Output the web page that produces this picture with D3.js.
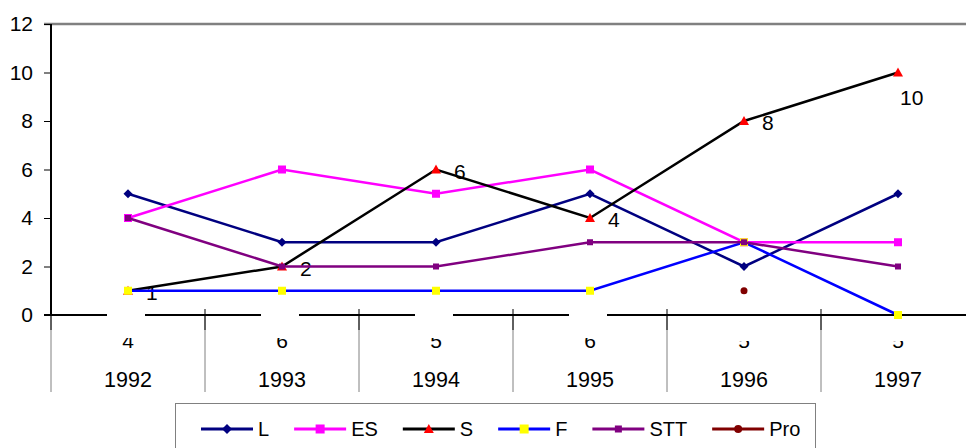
<!DOCTYPE html>
<html>
<head>
<meta charset="utf-8">
<script src="https://cdnjs.cloudflare.com/ajax/libs/d3/7.8.5/d3.min.js"></script>
<style>
  body { margin: 0; background: #fff; }
  svg { display: block; font-family: "Liberation Sans", Arial, sans-serif; }
</style>
</head>
<body>
<svg id="chart" width="966" height="448"></svg>
<script>
var years = ["1992", "1993", "1994", "1995", "1996", "1997"];
var innerLabels = ["4", "6", "5", "6", "5", "5"];
var yTicks = [0, 2, 4, 6, 8, 10, 12];

var seriesL   = [5, 3, 3, 5, 2, 5];
var seriesES  = [4, 6, 5, 6, 3, 3];
var seriesS   = [1, 2, 6, 4, 8, 10];
var seriesF   = [1, 1, 1, 1, 3, 0];
var seriesSTT = [4, 2, 2, 3, 3, 2];
var seriesPro = [null, null, null, null, 1, null];

var series = [
  {name: "L",   values: seriesL,   line: "#000080", fill: "#000080", mark: "diamond", size: 9},
  {name: "ES",  values: seriesES,  line: "#ff00ff", fill: "#ff00ff", mark: "square", size: 8},
  {name: "S",   values: seriesS,   line: "#000000", fill: "#ff0000", mark: "triangle", size: 10, labels: true},
  {name: "F",   values: seriesF,   line: "#0000ff", fill: "#ffff00", mark: "square", size: 8},
  {name: "STT", values: seriesSTT, line: "#800080", fill: "#800080", mark: "square", size: 6},
  {name: "Pro", values: seriesPro, line: "#800000", fill: "#800000", mark: "circle", size: 8, noLine: true}
];

var svg = d3.select("#chart");

var x = d3.scaleBand().domain(years).range([51, 51 + 6 * 154]);
var y = d3.scaleLinear().domain([0, 12]).range([315, 24]);

function cx(i) { return x(years[i]) + x.bandwidth() / 2; }

// category tiers
var cats = svg.append("g");
cats.selectAll("text.inner")
  .data(innerLabels)
  .enter().append("text")
  .attr("x", function (d, i) { return cx(i); })
  .attr("y", 348)
  .attr("text-anchor", "middle")
  .attr("font-size", 21)
  .text(function (d) { return d; });

// white boxes hiding the top of the inner labels
cats.selectAll("rect.hide")
  .data(innerLabels)
  .enter().append("rect")
  .attr("x", function (d, i) { return cx(i) - 21; })
  .attr("y", 311)
  .attr("width", 38)
  .attr("height", function (d, i) { return i < 4 ? 27 : 30; })
  .attr("fill", "#fff");

cats.selectAll("text.year")
  .data(years)
  .enter().append("text")
  .attr("x", function (d, i) { return cx(i); })
  .attr("y", 387)
  .attr("text-anchor", "middle")
  .attr("font-size", 21.5)
  .text(function (d) { return d; });

cats.selectAll("line.div")
  .data(years)
  .enter().append("line")
  .attr("x1", function (d) { return x(d); })
  .attr("x2", function (d) { return x(d); })
  .attr("y1", 315)
  .attr("y2", 392)
  .attr("stroke", "#808080")
  .attr("stroke-width", 1);

cats.selectAll("line.tick")
  .data(years)
  .enter().append("line")
  .attr("x1", function (d) { return x(d); })
  .attr("x2", function (d) { return x(d); })
  .attr("y1", 309)
  .attr("y2", 330)
  .attr("stroke", "#000")
  .attr("stroke-width", 1);

// top border
svg.append("line")
  .attr("x1", 44).attr("x2", 966)
  .attr("y1", y(12)).attr("y2", y(12))
  .attr("stroke", "#808080").attr("stroke-width", 2.5);

// y axis
var yAxis = svg.append("g")
  .attr("transform", "translate(51,0)")
  .call(d3.axisLeft(y).tickValues(yTicks).tickSize(7).tickPadding(11));
yAxis.select(".domain").remove();
yAxis.selectAll("line").attr("stroke", "#000");
yAxis.selectAll("text").attr("font-size", 21).attr("fill", "#000")
  .attr("font-family", "Liberation Sans, Arial, sans-serif");
svg.append("line")
  .attr("x1", 51).attr("x2", 51).attr("y1", y(12)).attr("y2", 315)
  .attr("stroke", "#000").attr("stroke-width", 2);

// x axis line, drawn in pieces so the first four boxes break it
var xLine = svg.append("g");
var breaks = [0, 1, 2, 3].map(function (i) { return [cx(i) - 21, cx(i) + 17]; });
var segs = [];
var start = 44;
breaks.forEach(function (b) { segs.push([start, b[0]]); start = b[1]; });
segs.push([start, 966]);
xLine.selectAll("line")
  .data(segs)
  .enter().append("line")
  .attr("x1", function (d) { return d[0]; })
  .attr("x2", function (d) { return d[1]; })
  .attr("y1", 315).attr("y2", 315)
  .attr("stroke", "#000").attr("stroke-width", 2);

// markers
function drawMarker(g, s, px, py) {
  var h = s.size / 2;
  if (s.mark === "diamond") {
    g.append("path").attr("d", "M" + px + "," + (py - h) + "L" + (px + h) + "," + py +
      "L" + px + "," + (py + h) + "L" + (px - h) + "," + py + "Z").attr("fill", s.fill);
  } else if (s.mark === "square") {
    g.append("rect").attr("x", px - h).attr("y", py - h)
      .attr("width", s.size).attr("height", s.size).attr("fill", s.fill);
  } else if (s.mark === "triangle") {
    g.append("path").attr("d", "M" + px + "," + (py - h) + "L" + (px + h) + "," + (py + h - 1) +
      "L" + (px - h) + "," + (py + h - 1) + "Z").attr("fill", s.fill);
  } else {
    g.append("circle").attr("cx", px).attr("cy", py).attr("r", h - 0.5).attr("fill", s.fill);
  }
}

var line = d3.line()
  .defined(function (d) { return d != null; })
  .x(function (d, i) { return cx(i); })
  .y(function (d) { return y(d); });

var plot = svg.append("g");
series.forEach(function (s) {
  var g = plot.append("g");
  if (!s.noLine) {
    g.append("path")
      .attr("d", line(s.values))
      .attr("fill", "none")
      .attr("stroke", s.line)
      .attr("stroke-width", 2.5);
  }
  s.values.forEach(function (v, i) {
    if (v == null) return;
    drawMarker(g, s, cx(i), y(v));
  });
  if (s.labels) {
    g.selectAll("text")
      .data(s.values)
      .enter().append("text")
      .attr("x", function (d, i) { return i === s.values.length - 1 ? cx(i) + 2 : cx(i) + 18; })
      .attr("y", function (d, i) { return i === s.values.length - 1 ? y(d) + 32 : y(d) + 9; })
      .attr("font-size", 21)
      .attr("fill", "#000")
      .text(function (d) { return d; });
  }
});

// legend
var legend = svg.append("g");
legend.append("rect")
  .attr("x", 175.5).attr("y", 403.5)
  .attr("width", 640).attr("height", 60)
  .attr("fill", "#fff").attr("stroke", "#808080").attr("stroke-width", 1);

var lx = 201;
series.forEach(function (s) {
  var g = legend.append("g");
  g.append("line")
    .attr("x1", lx).attr("x2", lx + 52)
    .attr("y1", 429).attr("y2", 429)
    .attr("stroke", s.line).attr("stroke-width", 3);
  var ms = Object.assign({}, s, {size: Math.min(s.size + 1, 10)});
  drawMarker(g, ms, lx + 26, 429);
  var t = g.append("text")
    .attr("x", lx + 57).attr("y", 436)
    .attr("font-size", 20)
    .attr("fill", "#000")
    .text(s.name);
  lx += 57 + t.node().getComputedTextLength() + 25;
});
</script>
</body>
</html>
